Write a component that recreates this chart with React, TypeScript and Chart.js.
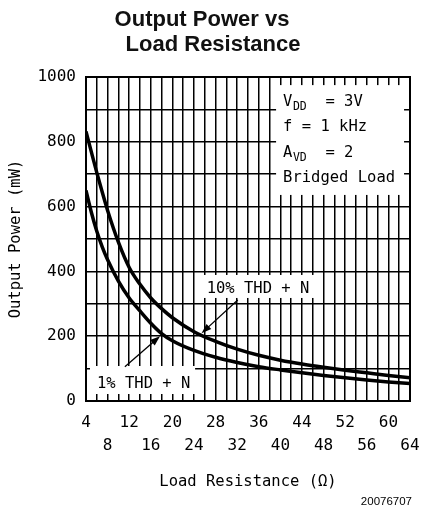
import { useEffect, useRef } from 'react';
import { Chart, registerables } from 'chart.js';

Chart.register(...registerables);

// ---- data ----
const loadResistance = [4, 5, 6, 7, 8, 10, 12, 14, 16, 18, 20, 24, 28, 32, 36, 40, 44, 48, 52, 56, 60, 64];
const power10pct = [832, 768, 705, 645, 588, 490, 412, 360, 318, 285, 257, 214, 184, 160, 141, 126, 114, 104, 95, 87, 79, 72];
const power1pct = [650, 582, 524, 476, 436, 370, 318, 278, 240, 208, 186, 156, 135, 119, 106, 96, 87, 79, 72, 65, 59, 54];
const seriesNames = ['10% THD + N', '1% THD + N'];
const xTickRowA = [4, 12, 20, 28, 36, 44, 52, 60];
const xTickRowB = [8, 16, 24, 32, 40, 48, 56, 64];
const yTickLabels = [0, 200, 400, 600, 800, 1000];
const titleLines = ['Output Power vs', 'Load Resistance'];
const xTitle = 'Load Resistance (Ω)';
const yTitle = 'Output Power (mW)';
const figureId = '20076707';

const MONO = "'DejaVu Sans Mono', monospace";
const SANS = "'Liberation Sans', Arial, sans-serif";

const toPoints = (ys: number[]) => loadResistance.map((r, i) => ({ x: r, y: ys[i] }));

const annotate = {
  id: 'annotate',
  beforeDatasetsDraw(chart: any) {
    const { ctx, scales } = chart;
    const x = scales.x, y = scales.y;
    ctx.save();
    ctx.fillStyle = '#fff';
    const box = (x1: number, y1: number, x2: number, y2: number) => {
      const l = x.getPixelForValue(x1), r = x.getPixelForValue(x2);
      const t = y.getPixelForValue(y1), b = y.getPixelForValue(y2);
      ctx.fillRect(l, t, r - l, b - t);
    };
    box(39.2, 975, 62.9, 636); // conditions box
    box(25.7, 389, 46.6, 318); // 10% label
    box(4.74, 108, 24.2, 21.6); // 1% label
    ctx.restore();
  },
  afterDatasetsDraw(chart: any) {
    const { ctx, scales, chartArea } = chart;
    const x = scales.x, y = scales.y;
    ctx.save();
    // frame
    ctx.strokeStyle = '#000';
    ctx.lineWidth = 2;
    ctx.strokeRect(chartArea.left, chartArea.top, chartArea.right - chartArea.left, chartArea.bottom - chartArea.top);

    ctx.fillStyle = '#000';
    ctx.textBaseline = 'alphabetic';
    ctx.textAlign = 'left';
    const big = `15.5px ${MONO}`;
    const small = `11.5px ${MONO}`;
    const px = (v: number) => x.getPixelForValue(v);
    const py = (v: number) => y.getPixelForValue(v);

    const withSub = (main: string, sub: string, rest: string, xv: number, yv: number) => {
      let cx = px(xv);
      const by = py(yv);
      ctx.font = big;
      ctx.fillText(main, cx, by);
      cx += ctx.measureText(main).width;
      ctx.font = small;
      ctx.fillText(sub, cx + 0.5, by + 4);
      cx += ctx.measureText(sub).width + 0.5;
      ctx.font = big;
      ctx.fillText(rest, cx, by);
    };
    withSub('V', 'DD', '  = 3V', 40.5, 910);
    ctx.font = big;
    ctx.fillText('f = 1 kHz', px(40.5), py(833));
    withSub('A', 'VD', '  = 2', 40.5, 753);
    ctx.font = big;
    ctx.fillText('Bridged Load', px(40.5), py(676));

    ctx.fillText(seriesNames[0], px(26.35), py(333));
    ctx.fillText(seriesNames[1], px(6.04), py(40));

    const arrow = (x1: number, y1: number, x2: number, y2: number) => {
      const ax = px(x1), ay = py(y1), bx = px(x2), by = py(y2);
      const ang = Math.atan2(by - ay, bx - ax);
      const len = 10, hw = 3.5;
      ctx.lineWidth = 1.3;
      ctx.beginPath();
      ctx.moveTo(ax, ay);
      ctx.lineTo(bx - Math.cos(ang) * len * 0.8, by - Math.sin(ang) * len * 0.8);
      ctx.stroke();
      ctx.beginPath();
      ctx.moveTo(bx, by);
      ctx.lineTo(bx - Math.cos(ang) * len - Math.sin(ang) * hw, by - Math.sin(ang) * len + Math.cos(ang) * hw);
      ctx.lineTo(bx - Math.cos(ang) * len + Math.sin(ang) * hw, by - Math.sin(ang) * len - Math.cos(ang) * hw);
      ctx.closePath();
      ctx.fill();
    };
    arrow(32.1, 312, 25.4, 209);
    arrow(11.2, 106, 17.7, 200);
    ctx.restore();
  },
  afterDraw(chart: any) {
    const { ctx } = chart;
    ctx.save();
    ctx.fillStyle = '#111';
    ctx.textAlign = 'center';
    ctx.textBaseline = 'alphabetic';
    ctx.font = `bold 22px ${SANS}`;
    ctx.fillText(titleLines[0], 202, 26);
    ctx.fillText(titleLines[1], 213, 51);
    ctx.font = `11.5px ${SANS}`;
    ctx.textAlign = 'right';
    ctx.fillStyle = '#000';
    ctx.fillText(figureId, 412, 505);
    ctx.restore();
  },
};

export default function App() {
  const ref = useRef<HTMLCanvasElement>(null);
  useEffect(() => {
    if (!ref.current) return;
    const chart = new Chart(ref.current, {
      type: 'line',
      data: {
        datasets: [
          {
            label: seriesNames[0],
            data: toPoints(power10pct),
            borderColor: '#000',
            borderWidth: 3.5,
            pointRadius: 0,
            cubicInterpolationMode: 'monotone',
            fill: false,
          },
          {
            label: seriesNames[1],
            data: toPoints(power1pct),
            borderColor: '#000',
            borderWidth: 3.5,
            pointRadius: 0,
            cubicInterpolationMode: 'monotone',
            fill: false,
          },
        ],
      },
      options: {
        responsive: false,
        animation: false,
        events: [],
        layout: { padding: { top: 77, right: 12, left: 0, bottom: 0 } },
        plugins: {
          legend: { display: false },
          tooltip: { enabled: false },
          title: { display: false },
        },
        scales: {
          x: {
            type: 'linear',
            min: 4,
            max: 64,
            afterFit: (s: any) => {
              s.height = 115;
              s.paddingRight = 0;
              s.paddingLeft = 0;
            },
            border: { display: true, color: '#000', width: 2 },
            grid: { color: '#000', lineWidth: 1.5, drawTicks: false },
            ticks: {
              stepSize: 2,
              autoSkip: false,
              maxRotation: 0,
              minRotation: 0,
              padding: 10,
              color: '#000',
              font: { family: MONO, size: 16, lineHeight: 1.45 },
              callback: (v: any) => {
                const n = Math.round(Number(v));
                if (xTickRowA.includes(n)) return [String(n), ''];
                if (xTickRowB.includes(n)) return ['', String(n)];
                return '';
              },
            },
            title: {
              display: true,
              text: xTitle,
              color: '#000',
              font: { family: MONO, size: 15.5 },
              padding: { top: 0, bottom: 25 },
            },
          },
          y: {
            min: 0,
            max: 1000,
            afterFit: (s: any) => {
              s.width = 86;
            },
            border: { display: true, color: '#000', width: 2 },
            grid: { color: '#000', lineWidth: 1.5, drawTicks: false },
            ticks: {
              stepSize: 100,
              autoSkip: false,
              padding: 10,
              color: '#000',
              font: { family: MONO, size: 16 },
              callback: (v: any) => {
                const n = Math.round(Number(v));
                return yTickLabels.includes(n) ? String(n) : '';
              },
            },
            title: {
              display: true,
              text: yTitle,
              color: '#000',
              font: { family: MONO, size: 15.5 },
              padding: { top: 7, bottom: 0 },
            },
          },
        },
      },
      plugins: [annotate],
    } as any);
    return () => chart.destroy();
  }, []);

  return (
    <div style={{ position: 'fixed', left: 0, top: 0, width: 422, height: 516, background: '#fff' }}>
      <canvas ref={ref} width={422} height={516} style={{ display: 'block', width: 422, height: 516 }} />
    </div>
  );
}
